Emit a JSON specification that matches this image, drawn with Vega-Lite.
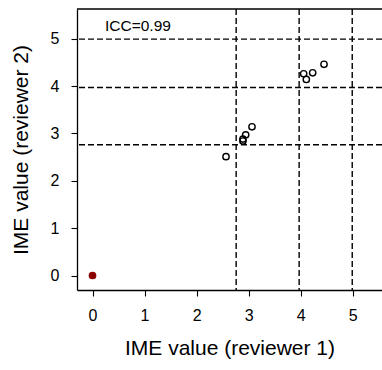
{
  "$schema": "https://vega.github.io/schema/vega-lite/v6.json",
  "autosize": "none",
  "width": 305,
  "height": 281,
  "padding": {"left": 77, "top": 9, "right": 0, "bottom": 80},
  "config": {
    "view": {"stroke": null},
    "font": "Liberation Sans",
    "axis": {
      "domainColor": "black", "domainWidth": 1.3,
      "tickColor": "black", "tickWidth": 1.1, "tickSize": 6,
      "labelColor": "black", "labelFont": "Liberation Sans", "labelFontSize": 16,
      "titleColor": "black", "titleFont": "Liberation Sans", "titleFontSize": 21, "titleFontWeight": "normal",
      "grid": false
    }
  },
  "datasets": {
    "pts": [
      {"r1": 0, "r2": 0, "kind": "filled"},
      {"r1": 2.565, "r2": 2.51, "kind": "open"},
      {"r1": 2.89, "r2": 2.88, "kind": "open"},
      {"r1": 2.89, "r2": 2.84, "kind": "open"},
      {"r1": 2.943, "r2": 2.97, "kind": "open"},
      {"r1": 3.064, "r2": 3.14, "kind": "open"},
      {"r1": 4.057, "r2": 4.26, "kind": "open"},
      {"r1": 4.108, "r2": 4.14, "kind": "open"},
      {"r1": 4.23, "r2": 4.28, "kind": "open"},
      {"r1": 4.448, "r2": 4.46, "kind": "open"}
    ],
    "cuts": [{"v": 2.76}, {"v": 3.97}, {"v": 4.99}],
    "label": [{"x": 0.24, "y": 5.26, "t": "ICC=0.99"}]
  },
  "layer": [
    {
      "data": {"name": "cuts"},
      "mark": {"type": "rule", "color": "black", "strokeWidth": 1.4, "strokeDash": [6, 3]},
      "encoding": {
        "x": {"field": "v", "type": "quantitative",
              "scale": {"domain": [-0.298, 5.562], "nice": false, "zero": false},
              "axis": {"orient": "bottom", "values": [0, 1, 2, 3, 4, 5], "labelPadding": 11, "title": "IME value (reviewer 1)", "titlePadding": 14}}
      }
    },
    {
      "data": {"name": "cuts"},
      "mark": {"type": "rule", "color": "black", "strokeWidth": 1.4, "strokeDash": [6, 3]},
      "encoding": {
        "y": {"field": "v", "type": "quantitative",
              "scale": {"domain": [-0.306, 5.627], "nice": false, "zero": false},
              "axis": {"orient": "left", "values": [0, 1, 2, 3, 4, 5], "labelPadding": 12, "title": "IME value (reviewer 2)", "titlePadding": 19}}
      }
    },
    {
      "data": {"name": "label"},
      "mark": {"type": "rule", "color": "black", "strokeWidth": 1.3},
      "encoding": {
        "y": {"datum": 5.627, "type": "quantitative"}
      }
    },
    {
      "data": {"name": "pts"},
      "mark": {"type": "point", "shape": "circle", "size": 40, "strokeWidth": 1.4, "opacity": 1},
      "encoding": {
        "x": {"field": "r1", "type": "quantitative"},
        "y": {"field": "r2", "type": "quantitative"},
        "fill": {"field": "kind", "type": "nominal", "scale": {"domain": ["open", "filled"], "range": ["transparent", "#8B0000"]}, "legend": null},
        "stroke": {"field": "kind", "type": "nominal", "scale": {"domain": ["open", "filled"], "range": ["black", "#8B0000"]}, "legend": null}
      }
    },
    {
      "data": {"name": "label"},
      "mark": {"type": "text", "align": "left", "baseline": "middle", "fontSize": 15.5, "font": "Liberation Sans", "color": "black"},
      "encoding": {
        "x": {"field": "x", "type": "quantitative"},
        "y": {"field": "y", "type": "quantitative"},
        "text": {"field": "t"}
      }
    }
  ]
}
